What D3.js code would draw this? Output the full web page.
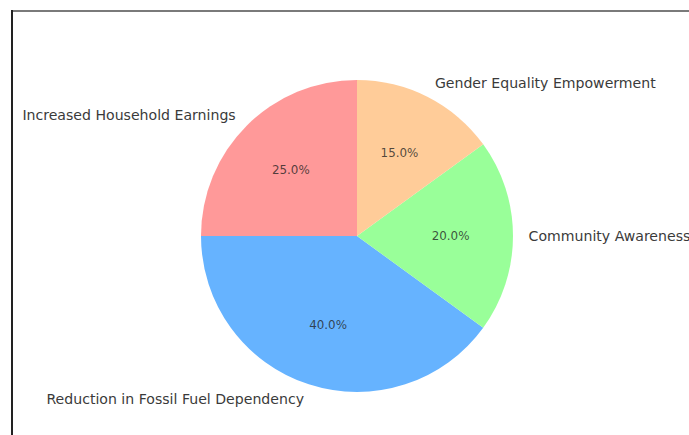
<!DOCTYPE html>
<html>
<head>
<meta charset="utf-8">
<script src="https://cdn.jsdelivr.net/npm/d3@7"></script>
<style>
  html, body { margin: 0; padding: 0; background: #fff; overflow: hidden; }
  svg { display: block; }
</style>
</head>
<body>
<script>
// Share of benefits, drawn counter-clockwise from 12 o'clock
const categories = [
  "Increased Household Earnings",
  "Reduction in Fossil Fuel Dependency",
  "Community Awareness",
  "Gender Equality Empowerment"
];
const shares = [25, 40, 20, 15];
const colors = ["#ff9999", "#66b3ff", "#99ff99", "#ffcc99"];

const W = 689, H = 435;
const cx = 357, cy = 236, r = 156;

const svg = d3.select("body").append("svg")
  .attr("width", W).attr("height", H);

// frame edges
svg.append("line").attr("x1", 12).attr("x2", W).attr("y1", 11).attr("y2", 11)
  .attr("stroke", "#7a7a7a").attr("stroke-width", 2);
svg.append("line").attr("x1", 12).attr("x2", 12).attr("y1", 10).attr("y2", H)
  .attr("stroke", "#222").attr("stroke-width", 2);

const data = categories.map((c, i) => ({ label: c, value: shares[i], color: colors[i] }));

const pie = d3.pie().value(d => d.value).sort(null)
  .startAngle(0).endAngle(-2 * Math.PI);
const arcs = pie(data);

const arc = d3.arc().innerRadius(0).outerRadius(r);
const g = svg.append("g").attr("transform", `translate(${cx},${cy})`);

g.selectAll("path.slice").data(arcs).join("path")
  .attr("class", "slice")
  .attr("d", arc)
  .attr("fill", d => d.data.color);

const total = d3.sum(shares);
const mid = d => (d.startAngle + d.endAngle) / 2;

// percentage labels inside the wedges
g.selectAll("text.pct").data(arcs).join("text")
  .attr("class", "pct")
  .attr("x", d => 0.6 * r * Math.sin(mid(d)))
  .attr("y", d => -0.6 * r * Math.cos(mid(d)))
  .attr("text-anchor", "middle")
  .attr("dominant-baseline", "central")
  .attr("font-family", "DejaVu Sans, sans-serif")
  .attr("font-size", 11.9)
  .attr("fill", "#222")
  .attr("fill-opacity", 0.78)
  .text(d => (d.data.value / total * 100).toFixed(1) + "%");

// category labels outside the pie
g.selectAll("text.lbl").data(arcs).join("text")
  .attr("class", "lbl")
  .attr("x", d => 1.1 * r * Math.sin(mid(d)))
  .attr("y", d => -1.1 * r * Math.cos(mid(d)))
  .attr("text-anchor", d => Math.sin(mid(d)) > 0 ? "start" : "end")
  .attr("dominant-baseline", "central")
  .attr("font-family", "DejaVu Sans, sans-serif")
  .attr("font-size", 14.1)
  .attr("fill", "#3a3a3a")
  .text(d => d.data.label);
</script>
</body>
</html>
